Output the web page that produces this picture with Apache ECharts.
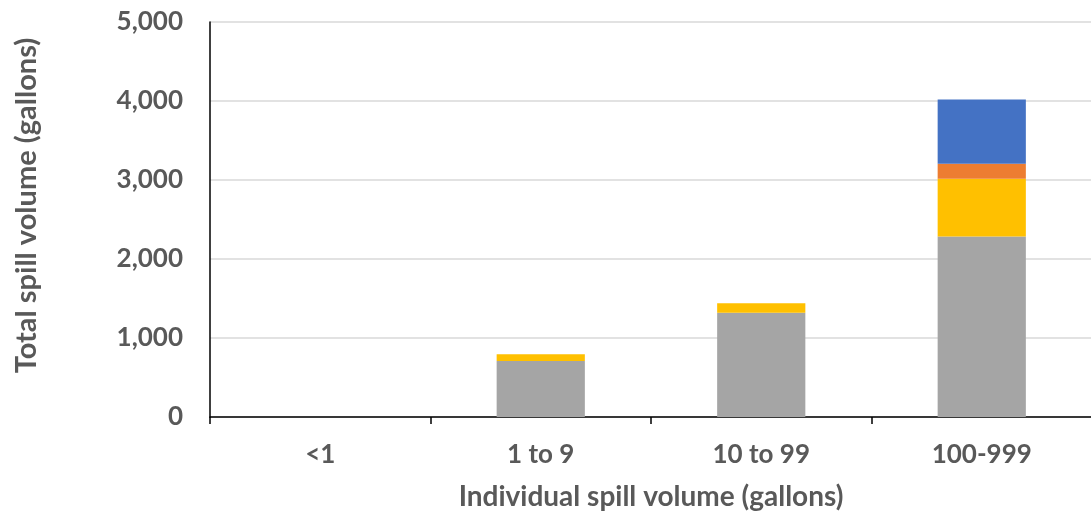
<!DOCTYPE html>
<html>
<head>
<meta charset="utf-8">
<script src="https://cdn.jsdelivr.net/npm/echarts@6/dist/echarts.min.js"></script>
<style>
  html, body { margin: 0; padding: 0; background: #fff; }
  #chart { width: 1091px; height: 515px; }
</style>
</head>
<body>
<div id="chart"></div>
<script>
// Spill-size bins on the x axis
const categories = ['<1', '1 to 9', '10 to 99', '100-999'];

// Stacked totals per bin (gallons), bottom segment first
const graySeries   = [0, 710, 1320, 2285];
const yellowSeries = [0, 85, 120, 730];
const orangeSeries = [0, 0, 0, 190];
const blueSeries   = [0, 0, 0, 815];

const FONT = 'Lato, "Open Sans", sans-serif';
const TEXT = '#595959';

const chart = echarts.init(document.getElementById('chart'), null, { renderer: 'canvas' });

function bar(name, data, color) {
  return {
    name: name,
    type: 'bar',
    stack: 'total',
    barWidth: '40%',
    data: data,
    itemStyle: { color: color },
    emphasis: { disabled: true }
  };
}

chart.setOption({
  animation: false,
  grid: {
    left: 210, right: -1, top: 22, bottom: 98,
    containLabel: false,
    outerBoundsMode: 'none'
  },
  xAxis: {
    type: 'category',
    data: categories,
    boundaryGap: true,
    name: 'Individual spill volume (gallons)',
    nameLocation: 'middle',
    nameGap: 66,
    nameTextStyle: { fontFamily: FONT, fontWeight: 'bold', fontSize: 28, color: TEXT },
    axisLine: { lineStyle: { color: '#000', width: 1.5 } },
    axisTick: { show: true, length: 7, alignWithLabel: false, lineStyle: { color: '#000', width: 1.5 } },
    axisLabel: { margin: 25, fontFamily: FONT, fontWeight: 'bold', fontSize: 26, color: TEXT, interval: 0 },
    splitLine: { show: false }
  },
  yAxis: {
    type: 'value',
    min: 0,
    max: 5000,
    interval: 1000,
    name: 'Total spill volume (gallons)',
    nameLocation: 'middle',
    nameGap: 169,
    nameTextStyle: {
      fontFamily: FONT, fontWeight: 'bold', fontSize: 29, color: TEXT,
      padding: [0, 0, 0, 28]
    },
    axisLine: { show: true, lineStyle: { color: '#000', width: 1.5 } },
    axisTick: { show: false },
    axisLabel: {
      margin: 27,
      fontFamily: FONT, fontWeight: 'bold', fontSize: 26, color: TEXT,
      formatter: v => v.toLocaleString('en-US')
    },
    splitLine: { show: true, lineStyle: { color: '#D9D9D9', width: 1.5 } }
  },
  series: [
    bar('Gray', graySeries, '#A5A5A5'),
    bar('Yellow', yellowSeries, '#FFC000'),
    bar('Orange', orangeSeries, '#ED7D31'),
    bar('Blue', blueSeries, '#4472C4')
  ]
});
</script>
</body>
</html>
